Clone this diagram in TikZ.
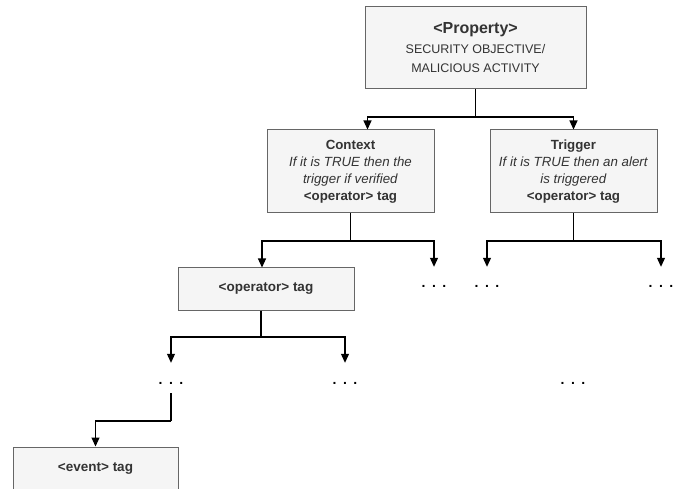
\documentclass[tikz,border=0pt]{standalone}
\usepackage{fontspec}
\setmainfont{Liberation Sans}
\usetikzlibrary{arrows.meta}
\definecolor{boxfill}{HTML}{F5F5F5}
\definecolor{boxline}{HTML}{666666}
\definecolor{txt}{HTML}{333333}
\begin{document}
\begin{tikzpicture}[x=1pt,y=-1pt,
  box/.style={draw=boxline,fill=boxfill,line width=1pt,inner sep=0pt,align=center,text=txt},
  dotsnode/.style={inner sep=0pt,minimum height=20pt,font=\fontsize{14}{14}\selectfont\bfseries},
  arr/.style={draw=black,line width=1.1pt,-{Triangle[width=8pt,length=9pt]}},
  ln/.style={draw=black,line width=1.1pt}]
\useasboundingbox (0,0) rectangle (683,489);
\node[box,minimum width=221pt,minimum height=82pt,font=\fontsize{12.5}{19.5}\selectfont] (prop) at (475.5,48)
  {{\fontsize{16}{16}\selectfont\bfseries <Property>}\\SECURITY OBJECTIVE/\\MALICIOUS ACTIVITY};
\node[box,minimum width=167pt,minimum height=83pt,font=\fontsize{13.3}{17}\selectfont] (ctx) at (350.5,171.5)
  {\textbf{Context}\\\textit{If it is TRUE then the}\\\textit{trigger if verified}\\\textbf{<operator> tag}};
\node[box,minimum width=167pt,minimum height=83pt,font=\fontsize{13.3}{17}\selectfont] (trg) at (573.5,171.5)
  {\textbf{Trigger}\\\textit{If it is TRUE then an alert}\\\textit{is triggered}\\\textbf{<operator> tag}};
\node[box,minimum width=176pt,minimum height=42pt,font=\fontsize{13.5}{15}\selectfont\bfseries] (op) at (266,289) {<operator> tag};
\node[box,minimum width=165pt,minimum height=43pt,font=\fontsize{13.5}{15}\selectfont\bfseries] (ev) at (95.5,468.5) {<event> tag};
\node[dotsnode] (d1) at (434,286) {.\hspace{6.5pt}.\hspace{6.5pt}.};
\node[dotsnode] (d2) at (487,286) {.\hspace{6.5pt}.\hspace{6.5pt}.};
\node[dotsnode] (d3) at (661,286) {.\hspace{6.5pt}.\hspace{6.5pt}.};
\node[dotsnode] (d4) at (171,383) {.\hspace{6.5pt}.\hspace{6.5pt}.};
\node[dotsnode] (d5) at (345,383) {.\hspace{6.5pt}.\hspace{6.5pt}.};
\node[dotsnode] (d6) at (573,383) {.\hspace{6.5pt}.\hspace{6.5pt}.};
\coordinate (j1) at (475.5,117);
\coordinate (j2) at (350.5,241);
\coordinate (j3) at (573.5,241);
\coordinate (j4) at (261,337);
\coordinate (j5) at (171,421);
% property
\draw[ln] (prop.south) -- (j1);
\draw[arr] (j1) -| ([xshift=17pt]ctx.north);
\draw[arr] (j1) -| (trg.north);
% context
\draw[ln] (ctx.south) -- (j2);
\draw[arr] (j2) -| ([xshift=-4pt]op.north);
\draw[arr] (j2) -| ([yshift=9pt]d1.north);
% trigger
\draw[ln] (trg.south) -- (j3);
\draw[arr] (j3) -| ([yshift=9pt]d2.north);
\draw[arr] (j3) -| ([yshift=9pt]d3.north);
% operator
\draw[ln] ([xshift=-5pt]op.south) -- (j4);
\draw[arr] (j4) -| ([yshift=10pt]d4.north);
\draw[arr] (j4) -| ([yshift=10pt]d5.north);
% dots to event
\draw[ln] (d4.south) -- (j5);
\draw[arr] (j5) -| (ev.north);
\end{tikzpicture}
\end{document}
